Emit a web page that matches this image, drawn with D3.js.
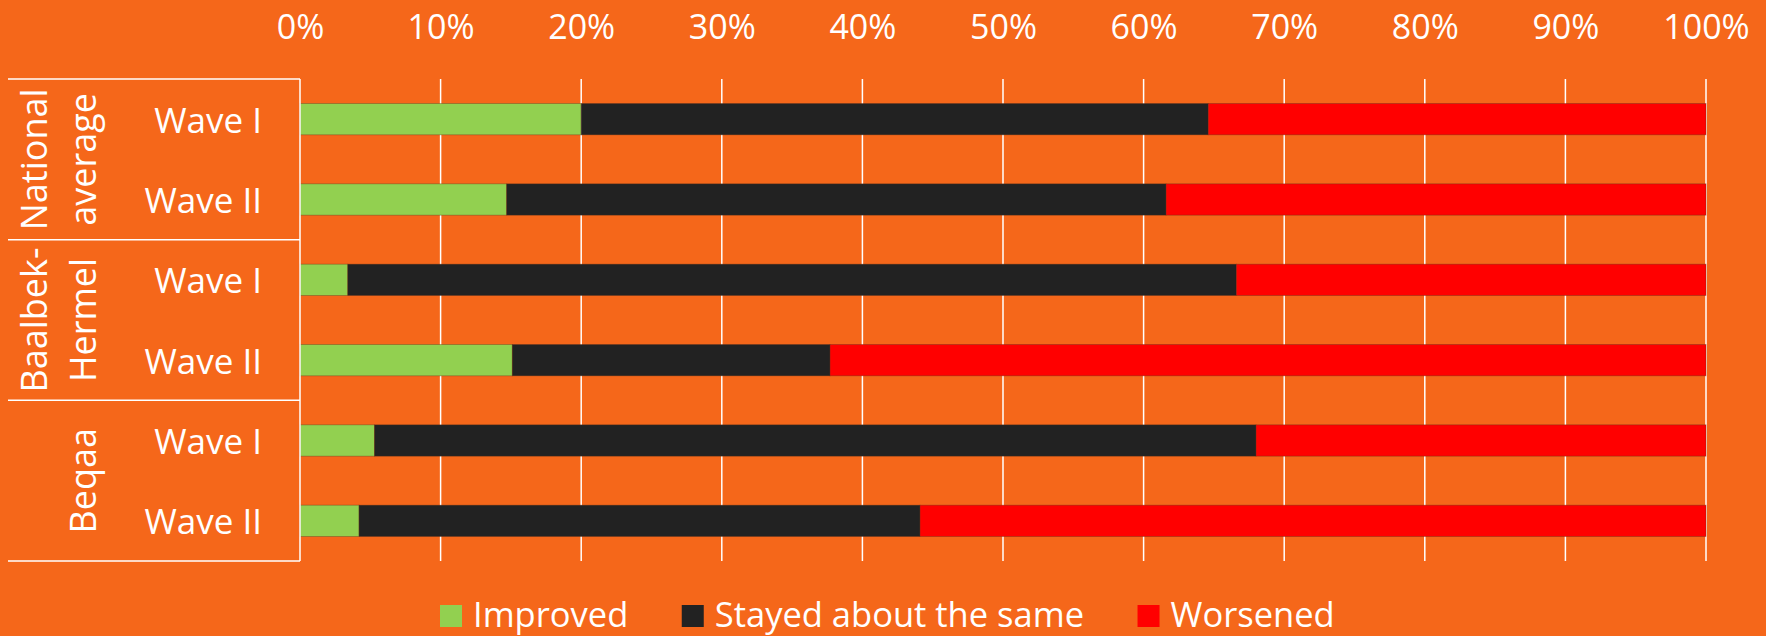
<!DOCTYPE html>
<html>
<head>
<meta charset="utf-8">
<script src="https://cdn.jsdelivr.net/npm/d3@7"></script>
<style>
  html, body { margin: 0; padding: 0; background: #F5671A; }
  svg { display: block; }
  text { font-family: "Open Sans", sans-serif; fill: #ffffff; }
</style>
</head>
<body>
<svg id="chart" width="1766" height="636"></svg>
<script>
// ---- data ----
const groups = ["National average", "Baalbek-Hermel", "Beqaa"];
const groupLines = [["National", "average"], ["Baalbek-", "Hermel"], ["", "Beqaa"]];
const waves = ["Wave I", "Wave II"];
const seriesNames = ["Improved", "Stayed about the same", "Worsened"];
const improved = [20.0, 14.7, 3.4, 15.1, 5.3, 4.2];
const stayedSame = [44.6, 46.9, 63.2, 22.6, 62.7, 39.9];
const worsened = [35.4, 38.4, 33.4, 62.3, 32.0, 55.9];
const tickValues = [0, 10, 20, 30, 40, 50, 60, 70, 80, 90, 100];
const colors = ["#92D050", "#222222", "#FF0000"];

// ---- build rows ----
const rows = [];
groups.forEach((g, gi) => waves.forEach((w, wi) => {
  const i = gi * waves.length + wi;
  rows.push({ id: g + "|" + w, group: g, wave: w,
    "Improved": improved[i], "Stayed about the same": stayedSame[i], "Worsened": worsened[i] });
}));

const svg = d3.select("#chart");
const pLeft = 300, pRight = 1706, pTop = 79, pBottom = 561;

const x = d3.scaleLinear().domain([0, 100]).range([pLeft, pRight]);
const y = d3.scaleBand().domain(rows.map(d => d.id)).range([pTop, pBottom])
  .paddingInner(0.61).paddingOuter(0.305);
const color = d3.scaleOrdinal().domain(seriesNames).range(colors);

// gridlines
svg.append("g").selectAll("line")
  .data(tickValues.filter(t => t > 0))
  .join("line")
  .attr("x1", d => x(d)).attr("x2", d => x(d))
  .attr("y1", pTop).attr("y2", pBottom)
  .attr("stroke", "#ffffff").attr("stroke-width", 1.5);

// top axis labels
const axis = svg.append("g").attr("transform", `translate(0,${pTop})`)
  .call(d3.axisTop(x).tickValues(tickValues).tickFormat(d => d + "%").tickSize(0).tickPadding(40));
axis.select(".domain").remove();
axis.selectAll("text").attr("font-size", 34).attr("fill", "#fff")
  .attr("font-family", "'Open Sans', sans-serif");

// stacked bars
const stacked = d3.stack().keys(seriesNames)(rows);
svg.append("g").selectAll("g")
  .data(stacked)
  .join("g")
  .attr("fill", d => color(d.key))
  .selectAll("rect")
  .data(d => d)
  .join("rect")
  .attr("x", d => x(d[0]))
  .attr("width", d => x(d[1]) - x(d[0]))
  .attr("y", d => y(d.data.id))
  .attr("height", y.bandwidth())
  .attr("stroke", "rgba(90,50,30,0.45)")
  .attr("stroke-width", 0.8);

// table lines on the left
const tbl = svg.append("g").attr("stroke", "#ffffff").attr("stroke-width", 1.5);
const groupBounds = groups.map(g => {
  const ids = rows.filter(r => r.group === g).map(r => r.id);
  const y0 = y(ids[0]) - y.step() * y.paddingInner() / 2;
  const y1 = y(ids[ids.length - 1]) + y.bandwidth() + y.step() * y.paddingInner() / 2;
  return [y0, y1];
});
const hLines = [pTop].concat(groupBounds.map(b => b[1]));
hLines[hLines.length - 1] = pBottom;
tbl.selectAll("line.h").data(hLines).join("line").attr("class", "h")
  .attr("x1", 8).attr("x2", pLeft).attr("y1", d => d).attr("y2", d => d);
tbl.append("line").attr("x1", pLeft).attr("x2", pLeft).attr("y1", pTop).attr("y2", pBottom);

// wave labels
svg.append("g").selectAll("text")
  .data(rows)
  .join("text")
  .attr("x", 262)
  .attr("y", d => y(d.id) + y.bandwidth() / 2)
  .attr("text-anchor", "end")
  .attr("dominant-baseline", "central")
  .attr("font-size", 35)
  .text(d => d.wave);

// group labels (rotated)
const lineX = [47, 96];
groups.forEach((g, gi) => {
  const cy = (groupBounds[gi][0] + groupBounds[gi][1]) / 2;
  groupLines[gi].forEach((ln, li) => {
    if (!ln) return;
    svg.append("text")
      .attr("transform", `translate(${lineX[li]},${cy}) rotate(-90)`)
      .attr("text-anchor", "middle")
      .attr("font-size", 36)
      .text(ln);
  });
});

// legend
const legend = svg.append("g");
let lx = 440;
seriesNames.forEach((s, i) => {
  legend.append("rect").attr("x", lx).attr("y", 605).attr("width", 22).attr("height", 22)
    .attr("fill", color(s));
  const t = legend.append("text").attr("x", lx + 33).attr("y", 627)
    .attr("font-size", 34.5).text(s);
  lx += 33 + t.node().getComputedTextLength() + 53.5;
});
</script>
</body>
</html>
